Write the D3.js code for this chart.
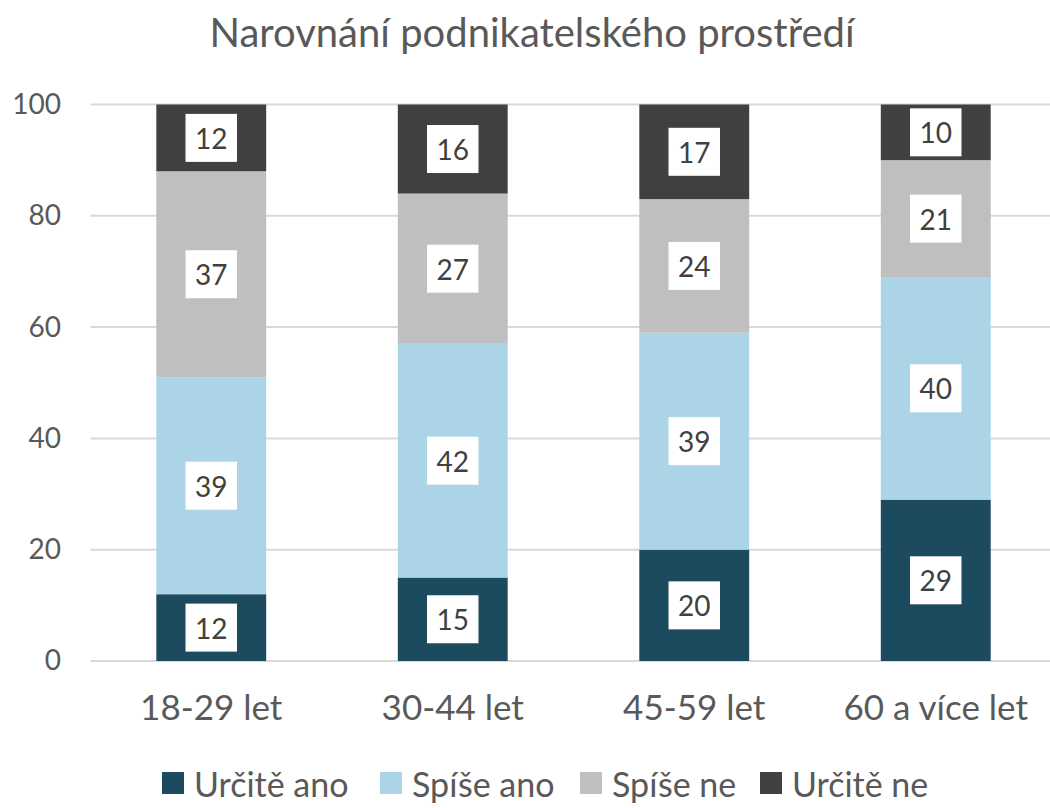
<!DOCTYPE html>
<html>
<head>
<meta charset="utf-8">
<script src="https://cdn.jsdelivr.net/npm/d3@7"></script>
<style>
  body { margin:0; background:#fff; }
  svg text { font-family:Lato, "Open Sans", sans-serif; }
</style>
</head>
<body>
<div id="chart"></div>
<script>
var categories = ["18-29 let","30-44 let","45-59 let","60 a více let"];
var seriesNames = ["Určitě ano","Spíše ano","Spíše ne","Určitě ne"];
var urciteAno = [12,15,20,29];
var spiseAno = [39,42,39,40];
var spiseNe = [37,27,24,21];
var urciteNe = [12,16,17,10];
var yTicks = [0,20,40,60,80,100];
var colors = ["#1c4a5e","#abd5e6","#bfbfbf","#404040"];

var width = 1050, height = 808;
var marginLeft = 90.5, plotTop = 104.5, plotBottom = 661;
var fontFam = "Lato, 'Open Sans', sans-serif";

var svg = d3.select("#chart").append("svg")
	.attr("width",width)
	.attr("height",height);

var rows = categories.map(function(c,i){
	return {cat:c, "Určitě ano":urciteAno[i], "Spíše ano":spiseAno[i], "Spíše ne":spiseNe[i], "Určitě ne":urciteNe[i]};
});
var stacked = d3.stack().keys(seriesNames)(rows);

var x = d3.scaleBand()
	.domain(categories)
	.range([marginLeft, marginLeft+966])
	.paddingInner(0.545)
	.paddingOuter(0.2725);
var y = d3.scaleLinear().domain([0,100]).range([plotBottom, plotTop]);

// title
svg.append("text")
	.attr("x",532).attr("y",47)
	.attr("text-anchor","middle")
	.attr("fill","#595959")
	.style("font-size","40px")
	.text("Narovnání podnikatelského prostředí");

// gridlines
svg.append("g").selectAll("line")
	.data(yTicks)
	.enter().append("line")
	.attr("x1",marginLeft).attr("x2",width)
	.attr("y1",function(d){return y(d);})
	.attr("y2",function(d){return y(d);})
	.style("stroke","#d9d9d9")
	.style("stroke-width","2px");

// y axis labels
var yAxis = svg.append("g")
	.attr("transform","translate(61,0)")
	.call(d3.axisLeft(y).tickValues(yTicks).tickSize(0).tickPadding(0));
yAxis.select(".domain").remove();
yAxis.selectAll("text")
	.attr("fill","#595959")
	.style("font-size","28px")
	.style("font-family",fontFam);

// x axis labels
var xAxis = svg.append("g")
	.attr("transform","translate(0,"+plotBottom+")")
	.call(d3.axisBottom(x).tickSize(0).tickPadding(34));
xAxis.select(".domain").remove();
xAxis.selectAll("text")
	.attr("fill","#595959")
	.style("font-size","35px")
	.style("font-family",fontFam);

// bars
var layers = svg.append("g").selectAll("g")
	.data(stacked)
	.enter().append("g")
	.attr("fill",function(d,i){return colors[i];});

layers.selectAll("rect")
	.data(function(d){return d;})
	.enter().append("rect")
	.attr("x",function(d){return x(d.data.cat);})
	.attr("width",x.bandwidth())
	.attr("y",function(d){return y(d[1]);})
	.attr("height",function(d){return y(d[0])-y(d[1]);});

// data labels
var labels = svg.append("g");
stacked.forEach(function(layer){
	layer.forEach(function(d){
		var cx = x(d.data.cat)+x.bandwidth()/2;
		var cy = (y(d[0])+y(d[1]))/2;
		var g = labels.append("g");
		var t = g.append("text")
			.attr("x",cx).attr("y",cy)
			.attr("text-anchor","middle")
			.attr("dominant-baseline","central")
			.attr("fill","#404040")
			.style("font-size","28px")
			.text(d[1]-d[0]);
		var w = t.node().getComputedTextLength()+19;
		g.insert("rect","text")
			.attr("x",cx-w/2).attr("y",cy-24)
			.attr("width",w).attr("height",48)
			.attr("fill","#fff");
	});
});

// legend
var legendX = [162,380,580,760];
var legend = svg.append("g").selectAll("g")
	.data(seriesNames)
	.enter().append("g")
	.attr("transform",function(d,i){return "translate("+legendX[i]+",772)";});
legend.append("rect")
	.attr("width",22).attr("height",22)
	.attr("fill",function(d,i){return colors[i];});
legend.append("text")
	.attr("x",32).attr("y",11)
	.attr("dominant-baseline","central")
	.attr("fill","#595959")
	.style("font-size","34px")
	.text(function(d){return d;});
</script>
</body>
</html>
